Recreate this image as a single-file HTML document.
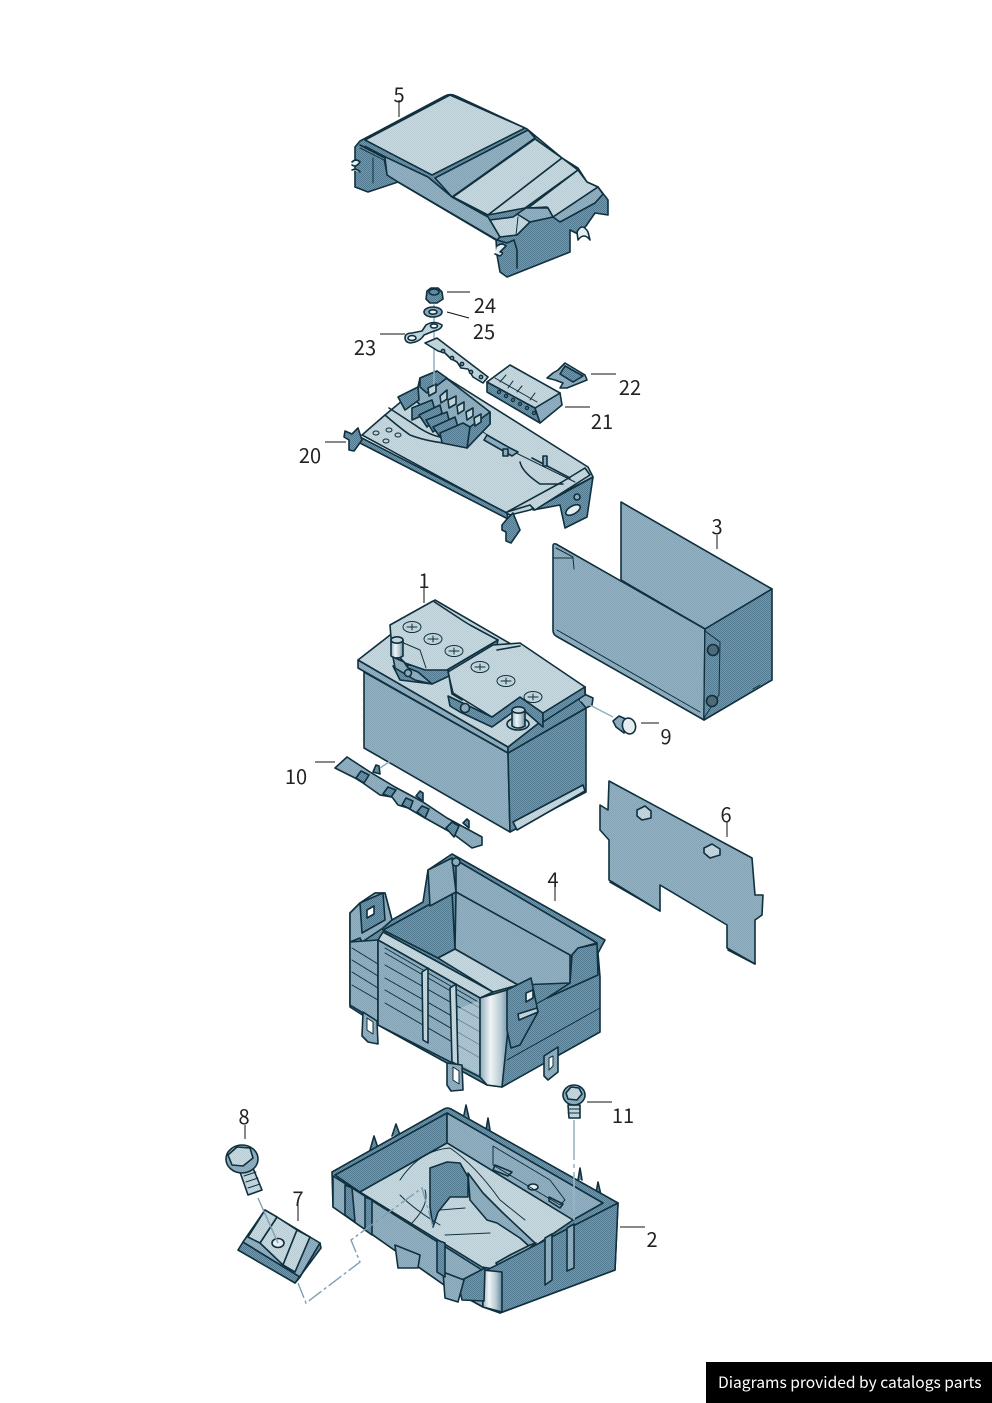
<!DOCTYPE html>
<html><head><meta charset="utf-8"><title>Battery diagram</title>
<style>
html,body{margin:0;padding:0;background:#fff}
svg{display:block}
text{font-family:"Noto Sans CJK JP","Liberation Sans",sans-serif;font-size:20px;fill:#222;text-anchor:middle}
.s polygon,.s path,.s ellipse,.s rect,.s circle{stroke:#10303e;stroke-width:1.6;stroke-linejoin:round;stroke-linecap:round}
.n{fill:none}
.s .t{stroke-width:1}
.L{fill:url(#pL)}.M{fill:url(#pM)}.D{fill:url(#pD)}.W{fill:#e6edf0}
.ld{stroke:#111;stroke-width:1;fill:none}
.dash{stroke:#7f9fb1;stroke-width:1.4;fill:none;stroke-dasharray:16 3 3 3}
</style></head><body>
<svg width="992" height="1403" viewBox="0 0 992 1403" xmlns="http://www.w3.org/2000/svg">
<defs>
<pattern id="pL" width="2" height="2" patternUnits="userSpaceOnUse"><rect width="2" height="2" fill="#cbdae0"/><rect width="1" height="1" fill="#b9ccd4"/><rect x="1" y="1" width="1" height="1" fill="#b9ccd4"/></pattern>
<pattern id="pM" width="2" height="2" patternUnits="userSpaceOnUse"><rect width="2" height="2" fill="#98b4c3"/><rect width="1" height="1" fill="#82a2b4"/><rect x="1" y="1" width="1" height="1" fill="#82a2b4"/></pattern>
<pattern id="pD" width="2" height="2" patternUnits="userSpaceOnUse"><rect width="2" height="2" fill="#7298ac"/><rect width="1" height="1" fill="#527b91"/><rect x="1" y="1" width="1" height="1" fill="#527b91"/></pattern>
<linearGradient id="gc" x1="0" x2="1" y1="0" y2="0"><stop offset="0" stop-color="#8fadbc"/><stop offset=".35" stop-color="#f0f4f6"/><stop offset=".7" stop-color="#b6cad3"/><stop offset="1" stop-color="#5f879c"/></linearGradient>
</defs>

<g class="s">
<!-- 5 cover -->
<path class="D" d="M360 141 L445 96 Q450 93 456 96 L527 129 L562 158 L578 168 L587 182 L598 187 L608 200 L608 215 L595 213 L586 226 L578 234 L570 230 L570 252 L507 277 L500 272 L497 255 L496 240 L398 182 L368 192 L355 187 L355 147 Z"/>
<polygon class="M" points="360,145 428,177 452,197 488,217 500,237 497,240 398,182 387,175 385,158"/>
<polygon class="L" points="365,140 450,95 525,128 432,175"/>
<polygon class="M" points="435,178 528,130 535,138 452,197"/>
<polygon class="L" points="453,197 535,139 562,158 488,215"/>
<polygon class="L" points="488,215 562,158 578,170 525,208"/>
<polygon class="L" points="528,208 578,170 587,182 598,187 553,217 547,207"/>
<polygon class="L" points="490,220 513,217 527,208 548,208 553,217 530,222 517,235 500,237"/>
<polygon class="M" points="553,217 598,187 603,194 595,203 560,222"/>
<polygon class="M" points="517,214 526,208 548,208 553,217 530,222"/>
<path class="n t" d="M360 148 L384 160 L387 175 M365 146 L384 156 M373 158 L373 183"/>
<path class="n t" d="M518 217 L516 235"/>
<path class="W" d="M352 162 Q356 158 360 162 Q356 168 352 165 M352 170 Q357 168 360 172"/>
<path class="W" d="M497 246 Q502 242 506 246 L500 252 Q505 252 500 256 L495 254"/>
<path class="W" d="M577 232 Q582 222 588 232 L590 240 Q584 232 578 240 Z"/>
<path class="n" d="M497 240 L507 243 L514 240 L517 250 L517 268"/>
</g>

<g class="s">
<!-- 20 tray -->
<polygon class="L" points="362,435 385,415 437,372 588,467 593,477 530,510 510,515"/>
<polygon class="D" points="358,436 507,513 508,519 358,442"/>
<polygon class="D" points="533,510 593,477 587,517 565,528 560,505"/>
<polygon class="L" points="507,512 530,505 535,510 590,475 585,468 562,482"/>
<ellipse class="W" cx="573" cy="510" rx="8" ry="4" transform="rotate(-30 573 510)"/>
<circle class="M" cx="577" cy="497" r="3"/>
<path class="D" d="M345 431 L352 434 L358 428 L362 440 L354 451 L349 450 L349 440 L344 437 Z"/>
<path class="D" d="M502 525 L507 519 L513 513 L520 530 L511 543 L506 541 L506 532 L502 530 Z"/>
<path class="n" d="M385 415 Q400 428 410 435 Q430 443 465 445"/>
<path class="n" d="M389 408 L415 425 Q430 436 445 438"/>
<path class="n" d="M520 462 Q522 472 540 484 L563 484 M532 458 L570 478"/>
<path class="n t" d="M480 430 L510 450 L575 482"/>
<polygon class="M" points="487,435 510,448 518,452 512,456 484,440"/>
<rect class="M" x="503" y="449" width="5" height="7"/>
<rect class="M" x="543" y="456" width="4" height="10"/>
<ellipse class="n t" cx="376" cy="433" rx="3" ry="2"/><ellipse class="n t" cx="389" cy="430" rx="3" ry="2"/><ellipse class="n t" cx="398" cy="435" rx="3" ry="2"/><ellipse class="n t" cx="386" cy="441" rx="3" ry="2"/>
<polygon class="M" points="420,378 437,371 490,412 490,424 467,448 415,400"/>
<polygon class="D" points="420,378 437,371 447,378 427,393 420,387"/>
<polygon class="D" points="398,397 418,387 419,400 405,410"/>
<polygon class="D" points="412,408 432,400 435,410 412,420"/>
<polygon class="D" points="419,415 440,405 442,413 427,427"/>
<polygon class="D" points="426,420 447,412 449,420 433,432"/>
<polygon class="D" points="433,427 455,417 458,427 440,437"/>
<polygon class="D" points="440,433 463,423 470,427 467,448 442,443"/>
<polygon class="D" points="470,427 490,412 490,424 467,448"/>
<g class="L">
<polygon points="428,388 436,384 436,392 429,396"/><polygon points="440,396 447,390 447,399 441,403"/>
<polygon points="448,400 456,396 456,404 449,408"/><polygon points="457,406 464,402 464,410 458,414"/>
<polygon points="466,412 473,408 473,416 467,420"/><polygon points="474,418 481,414 481,422 475,426"/>
</g>
<path d="M434 305 L434 384" fill="none" style="stroke:#8fb0c0;stroke-width:1.5"/>
<!-- busbar -->
<path class="L" d="M425 343 L437 338 L488 377 L483 383 L473 377 L468 369 L461 368 L457 362 L450 358 L445 353 L438 351 Z"/>
<g class="W"><circle cx="443" cy="351" r="1.6"/><circle cx="452" cy="358" r="1.6"/><circle cx="462" cy="364" r="1.6"/><circle cx="471" cy="372" r="1.6"/><circle cx="481" cy="377" r="1.6"/></g>
<!-- 21 -->
<polygon class="D" points="487,382 535,408 540,423 487,392"/>
<polygon class="M" points="535,408 560,393 562,405 540,423"/>
<polygon class="L" points="487,382 510,365 560,393 535,408"/>
<path class="n t" d="M495 378 L537 402 M506 375 L500 382 M513 381 L508 388 M522 386 L517 392 M535 393 L530 400"/>
<g class="W"><circle cx="499" cy="392" r="1.4"/><circle cx="506" cy="396" r="1.4"/><circle cx="513" cy="400" r="1.4"/><circle cx="520" cy="404" r="1.4"/><circle cx="527" cy="408" r="1.4"/><circle cx="534" cy="413" r="1.4"/></g>
<!-- 22 -->
<path class="M" d="M547 378 L553 373 L558 370 L565 363 L585 375 L587 380 L567 388 L560 388 L563 383 L555 380 Z"/>
<path class="D" d="M565 366 L583 376 L573 382 L560 374 Z"/>
<!-- 23 -->
<path class="L" d="M405 338 Q405 333 412 333 L422 331 L426 325 Q434 320 442 325 Q442 329 434 331 L424 335 Q420 342 410 343 Q405 342 405 338 Z"/>
<ellipse fill="#fff" cx="412" cy="338" rx="4" ry="2.4"/>
<ellipse fill="#fff" cx="434" cy="326" rx="3.5" ry="2"/>
<!-- 25 -->
<ellipse class="M" cx="433" cy="312" rx="9" ry="5"/>
<ellipse class="W" cx="433" cy="312" rx="4" ry="2.2"/>
<!-- 24 -->
<path class="D" d="M427 291 L431 288 L438 288 L442 292 L443 299 L437 303 L430 303 L426 299 Z"/>
<ellipse class="D" cx="434" cy="292" rx="5" ry="3"/>
</g>

<g class="s">
<!-- 3 -->
<polygon class="M" points="621,502 772,589 705,629 621,580"/>
<path class="M" d="M553 546 Q553 543 556 544 L705 629 L704 720 L556 636 Q553 634 553 630 Z"/>
<polygon class="D" points="705,629 772,589 772,680 704,720"/>
<polygon class="D" points="705,631 720,642 719,695 704,718" style="stroke-width:1"/>
<circle fill="#4f6a78" cx="713" cy="650" r="5.5"/>
<circle fill="#4f6a78" cx="712" cy="701" r="5.5"/>
<path class="n t" d="M557 630 L700 712 M554 558 L573 558 L574 569 M556 548 L573 557 M760 685 L753 689"/>
<!-- 6 -->
<path class="M" d="M609 781 L752 858 L755 895 L763 895 L762 915 L755 920 L755 964 L727 948 L727 925 L660 885 L660 911 L609 880 L609 840 L600 830 L600 805 L608 810 Z"/>
<path class="n" d="M660 911 L610 882 M755 964 L728 950"/>
<polygon class="L" points="637,810 645,806 651,811 651,818 642,820 637,816"/>
<polygon class="L" points="704,848 712,844 720,849 720,855 710,858 704,853"/>
</g>

<g class="s">
<!-- 1 battery -->
<polygon class="M" points="364,672 508,753 510,832 364,748"/>
<polygon class="D" points="508,753 586,708 586,792 510,832"/>
<polygon class="L" points="513,822 583,785 585,791 517,830"/>
<polygon class="M" points="358,668 508,753 508,747 358,660"/>
<polygon class="D" points="508,753 586,708 585,687 508,747"/>
<polygon class="L" points="358,660 435,600 585,687 508,747"/>
<polygon class="M" points="577,697 582,693 593,698 592,705 586,708"/>
<!-- lid 1 -->
<polygon class="D" points="393,666 400,680 432,684 447,677 497,645 498,640 447,670 412,665"/>
<polygon class="L" points="390,625 433,601 465,622 470,625 483,632 498,640 447,670 425,670 405,663 392,650"/>
<path class="n t" d="M392 638 L420 650 L426 668"/>
<path class="M" d="M393 657 L404 662 L408 668 L418 672 L432 684 L415 680 L395 668 Z"/>
<circle class="M" cx="408" cy="673" r="3.5"/>
<path fill="url(#gc)" d="M391 640 Q397 636 403 640 L403 656 Q397 660 391 656 Z"/>
<ellipse class="L" cx="397" cy="640" rx="6" ry="3.2"/>
<!-- lid 2 -->
<polygon class="D" points="448,696 492,717 520,697 543,713 543,727 520,707 492,727 460,712 450,706"/>
<polygon class="L" points="448,672 493,645 520,643 585,687 543,713 520,697 492,717 453,693"/>
<path class="n" d="M448 670 L452 694 L462 700 M497 650 L520 646"/>
<polygon class="D" points="543,713 585,687 585,695 543,722"/>
<circle class="M" cx="465" cy="708" r="4.5"/>
<ellipse class="L" cx="518" cy="724" rx="11" ry="6"/>
<path fill="url(#gc)" d="M512 710 Q518 706 525 710 L525 726 Q518 730 512 726 Z"/>
<ellipse class="L" cx="518.500" cy="710" rx="6.500" ry="3.200"/>
<!-- terminals -->
<g class="n t">
<ellipse class="t" cx="412" cy="627" rx="9" ry="5.500"/><ellipse class="t" cx="433" cy="639" rx="9" ry="5.500"/><ellipse class="t" cx="454" cy="651" rx="9" ry="5.500"/>
<ellipse class="t" cx="480" cy="667" rx="9" ry="5.500"/><ellipse class="t" cx="506" cy="681" rx="9" ry="5.500"/><ellipse class="t" cx="533" cy="697" rx="9" ry="5.500"/>
<path class="t" d="M407 627 H417 M412 624 V630 M428 639 H438 M433 636 V642 M449 651 H459 M454 648 V654 M475 667 H485 M480 664 V670 M501 681 H511 M506 678 V684 M528 697 H538 M533 694 V700"/>
</g>
<!-- 9 -->
<path class="M" d="M613 721 L619 716 L628 720 L624 733 L616 727 Z"/>
<ellipse class="W" cx="629" cy="726" rx="6.500" ry="8" transform="rotate(-15 629 726)"/>
<!-- 10 -->
<path class="D" d="M373 772 L376 765 L379 766 L380 774 Z M416 796 L420 791 L423 793 L423 801 Z M463 823 L467 819 L469 821 L469 828 Z"/>
<path class="M" d="M335 768 L347 757 L370 772 L395 787 L423 802 L447 818 L482 837 L482 845 L472 848 L452 833 L425 818 L408 808 L398 805 L392 797 L380 795 L363 783 L355 778 Z"/>
<polygon class="D" points="356,778 361,771 369,775 364,783"/>
<polygon class="D" points="383,794 388,787 396,790 391,797"/>
<polygon class="D" points="402,805 406,798 413,801 410,809"/>
<polygon class="D" points="417,812 422,806 429,809 425,818"/>
<polygon class="D" points="446,828 452,822 459,826 454,837"/>
</g>
<path d="M380 768 L392 760 M580 700 L613 717" stroke="#8fb0c0" stroke-width="1.500" fill="none"/>

<g class="s">
<!-- 4 case -->
<path class="D" d="M350 913 L360 903 L375 893 L385 893 L392 920 L423 902 L428 870 L452 854 L605 940 L598 953 L600 977 L600 1032 L502 1087 L487 1085 L378 1025 L350 1007 Z"/>
<polygon class="M" points="456,860 597,943 578,948 570,957 456,892"/>
<polygon class="M" points="456,892 570,955 570,983 518,985 455,949"/>
<polygon class="D" points="383,930 452,892 455,949 438,958"/>
<polygon class="L" points="438,958 455,949 518,985 493,992"/>
<polygon class="M" points="350,913 360,903 375,893 385,893 392,920 383,928 362,942 360,938 350,942"/>
<polygon class="D" points="360,903 383,893 385,920 362,933"/>
<polygon fill="#fff" points="367,910 374,906 374,914 367,918"/>
<polygon class="M" points="350,942 378,940 378,1022 350,1005"/>
<path class="n t" d="M352 948 L378 964 M352 960 L378 976 M352 972 L378 988 M352 985 L378 1000"/>
<polygon class="L" points="383,932 493,992 480,998 378,940"/>
<polygon class="M" points="378,940 480,998 480,1077 378,1025"/>
<path class="n t" d="M385 948 L480 1003 M385 965 L480 1019 M385 978 L480 1032 M385 990 L480 1045 M385 1003 L480 1058 M385 953 L480 1008"/>
<polygon class="L" points="458,1009 480,1000 480,1075 458,1063" opacity=".55" style="stroke:none"/>
<polygon class="L" points="422,972 428,968 428,1043 423,1040"/>
<polygon class="L" points="450,988 456,984 458,1065 452,1062"/>
<path fill="url(#gc)" d="M480 998 L507 990 L510 1010 L502 1087 L487 1085 L480 1077 Z"/>
<polygon class="M" points="428,870 452,858 456,892 430,906"/>
<path class="D" d="M570 983 L572 955 L578 948 L597 944 L598 975 L547 998 Z"/>
<path class="n t" d="M507 1060 L600 1008 M547 998 L512 1017"/>
<circle class="M" cx="456" cy="862" r="4"/>
<polygon class="D" points="507,990 531,978 538,1012 520,1045 511,1048 507,1030"/>
<polygon fill="#e8eef1" points="526,993 533,990 533,998 526,1002"/>
<path class="L" d="M518 1014 L537 1008 L538 1012 L519 1020 Z"/>
<!-- tabs -->
<path class="M" d="M363 1012 L377 1021 L378 1044 L368 1042 L362 1036 Z"/><path fill="#fff" style="stroke-width:1" d="M367 1018 L373 1022 L373 1034 L367 1030 Z"/>
<path class="M" d="M447 1063 L462 1065 L463 1090 L451 1091 L447 1085 Z"/><path fill="#fff" style="stroke-width:1" d="M453 1067 L459 1071 L459 1084 L453 1080 Z"/>
<path class="M" d="M544 1056 L558 1047 L558 1072 L548 1080 L544 1076 Z"/><path fill="#fff" style="stroke-width:1" d="M549 1058 L553 1056 L553 1066 L549 1070 Z"/>
</g>

<g class="s">
<!-- 2 tray base -->
<path class="D" d="M370 1150 L374 1136 L378 1148 M392 1136 L396 1124 L400 1135 M464 1115 L466 1105 L469 1118 M486 1130 L488 1118 L490 1130 M578 1180 L580 1168 L582 1180 M596 1193 L598 1182 L601 1195"/>
<path class="D" d="M332 1172 L444 1109 Q447 1107 451 1109 L618 1203 L615 1270 L500 1313 L483 1307 L447 1287 L333 1207 Z"/>
<polygon class="D" points="335,1175 447,1113 447,1143 360,1192"/>
<polygon class="M" points="447,1113 603,1203 573,1220 447,1143"/>
<polygon class="L" points="360,1192 447,1143 573,1220 500,1270 482,1267"/>
<polygon class="D" points="430,1168 447,1162 460,1163 468,1177 468,1197 450,1197 438,1212 433,1227 430,1207"/>
<polygon class="M" points="468,1173 483,1193 503,1213 535,1243 530,1247 520,1238 497,1223 487,1220 470,1200"/>
<path class="M" d="M496 1263 L510 1255 L530 1245 L536 1243 L512 1262 L500 1270 Z"/>
<path class="n t" d="M400 1180 Q420 1150 450 1148 Q475 1165 500 1200 L525 1220 M425 1190 Q430 1205 410 1225 M440 1225 Q415 1210 400 1195 M445 1235 L490 1233 M440 1210 L465 1208"/>
<polygon class="M" points="495,1165 512,1172 508,1176 493,1170"/>
<ellipse class="W" cx="533" cy="1187" rx="5" ry="3"/>
<polygon class="M" points="549,1197 563,1204 560,1208 549,1201"/>
<path class="n t" d="M493 1146 L550 1180 L565 1200 L560 1205 L493 1165 Z"/>
<polygon class="M" points="333,1176 482,1270 483,1307 447,1287 333,1207"/>
<polygon class="D" points="483,1272 618,1203 615,1270 500,1313"/>
<path fill="url(#gc)" d="M482 1270 L502 1272 L502 1312 L483 1307 Z"/>
<polygon class="D" points="458,1282 485,1268 484,1301 462,1300"/>
<polygon class="M" points="443,1272 464,1280 458,1302 445,1298"/>
<polygon class="M" points="395,1245 420,1255 418,1268 398,1268"/>
<polygon class="D" points="345,1185 352,1188 355,1222 345,1215"/>
<polygon class="D" points="365,1197 372,1200 372,1235 365,1230"/>
<polygon class="D" points="437,1240 445,1243 445,1277 437,1272"/>
<polygon class="M" points="545,1238 552,1234 552,1280 545,1285"/>
<polygon class="M" points="567,1228 574,1224 574,1268 567,1271"/>
<!-- 7 -->
<polygon class="D" points="238,1250 243,1242 300,1277 295,1283"/>
<polygon class="M" points="243,1242 265,1210 320,1243 300,1277"/>
<polygon class="D" points="295,1283 300,1277 320,1243 321,1248"/>
<polygon class="L" points="277,1217 297,1230 283,1265 260,1243"/>
<polygon class="L" points="265,1210 277,1217 260,1243 248,1237"/>
<polygon class="L" points="297,1230 310,1237 295,1272 283,1265"/>
<ellipse class="W" cx="278" cy="1243" rx="6" ry="4.500"/>
<!-- 8 -->
<polygon class="L" points="240,1172 253,1168 262,1190 248,1195"/>
<path class="n t" d="M244 1176 L256 1172 M246 1182 L258 1178 M248 1188 L260 1184"/>
<ellipse class="M" cx="242" cy="1159" rx="16" ry="14"/>
<polygon class="L" points="228,1155 237,1147 250,1148 253,1158 243,1166 232,1165"/>
<!-- 11 -->
<polygon class="L" points="568,1105 580,1105 580,1118 569,1118"/>
<path class="n t" d="M568 1109 L580 1109 M568 1113 L580 1113"/>
<ellipse class="M" cx="574" cy="1095" rx="11" ry="10"/>
<polygon class="L" points="566,1093 571,1087 579,1088 582,1094 577,1100 568,1099"/>
</g>
<path class="dash" d="M298 1283 L306 1303 L360 1262 L351 1240 L422 1188 L433 1227"/>
<path d="M258 1198 L278 1243" stroke="#7f9fb1" stroke-width="1.400" fill="none"/>
<path d="M574 1120 L574 1220" stroke="#9ab5c3" stroke-width="1.600" fill="none" stroke-dasharray="40 4 4 4"/>

<!-- leaders -->
<path class="ld" d="M399 100V117 M447 292H470 M447 312L469 318 M380 334H405 M591 374H616 M565 407H590 M325 442H346 M717 535V549 M424 588V603 M641 723H659 M315 762H335 M727 822V837 M555 887V901 M245 1125V1139 M298 1205V1221 M587 1102H612 M620 1227H645"/>
<text x="399" y="102">5</text>
<text x="485" y="313">24</text>
<text x="484" y="339">25</text>
<text x="365" y="355">23</text>
<text x="630" y="395">22</text>
<text x="602" y="429">21</text>
<text x="310" y="463">20</text>
<text x="717" y="534">3</text>
<text x="424" y="588">1</text>
<text x="666" y="744">9</text>
<text x="296" y="784">10</text>
<text x="726" y="822">6</text>
<text x="553" y="887">4</text>
<text x="244" y="1124">8</text>
<text x="298" y="1206">7</text>
<text x="623" y="1123">11</text>
<text x="652" y="1247">2</text>

<rect x="706" y="1362" width="286" height="41" fill="#000"/>
<text x="718" y="1388" style="font-size:15.6px;fill:#fff;text-anchor:start">Diagrams provided by catalogs parts</text>
</svg>
</body></html>
